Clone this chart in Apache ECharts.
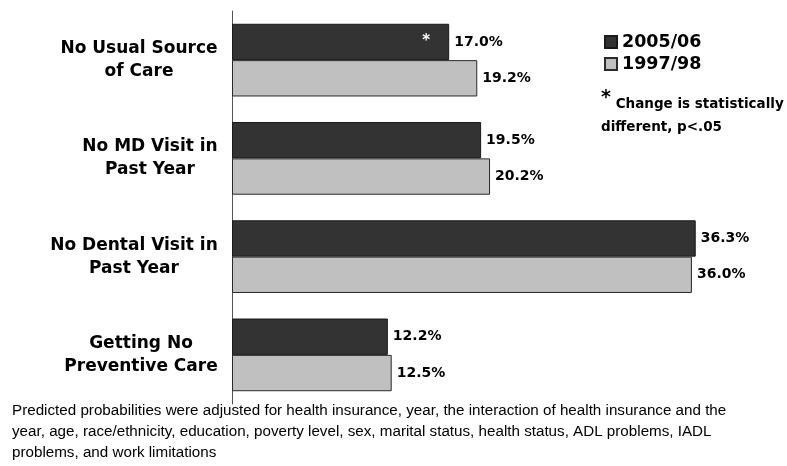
<!DOCTYPE html>
<html>
<head>
<meta charset="utf-8">
<script src="https://cdn.jsdelivr.net/npm/echarts@6/dist/echarts.min.js"></script>
<style>
  html, body { margin: 0; padding: 0; background: #fff; }
  #main { width: 787px; height: 466px; }
</style>
</head>
<body>
<div id="main"></div>
<script>
// chart data
const categories = [
  "No Usual Source\nof Care",
  "No MD Visit in\nPast Year",
  "No Dental Visit in\nPast Year",
  "Getting No\nPreventive Care",
];
const seriesNames = ["2005/06", "1997/98"];
const values2005 = [17.0, 19.5, 36.3, 12.2];
const values1997 = [19.2, 20.2, 36.0, 12.5];
// change statistically different (asterisk in the bar)
const significant = [true, false, false, false];

const noteText = "Change is statistically\ndifferent, p<.05";
const footnote =
  "Predicted probabilities were adjusted for health insurance, year, the interaction of health insurance and the\n" +
  "year, age, race/ethnicity, education, poverty level, sex, marital status, health status, ADL problems, IADL\n" +
  "problems, and work limitations";

const boldFont = '"DejaVu Sans", sans-serif';

// measure label widths so each two-line label is centred as a block
const ctx = document.createElement("canvas").getContext("2d");
ctx.font = 'bold 17px "DejaVu Sans"';
const labelRich = {};
categories.forEach((c, i) => {
  const w = Math.max(...c.split("\n").map((l) => ctx.measureText(l).width));
  labelRich["c" + i] = {
    width: Math.ceil(w),
    align: "center",
    fontFamily: boldFont,
    fontWeight: "bold",
    fontSize: 17,
    lineHeight: 23,
    color: "#000",
  };
});

const chart = echarts.init(document.getElementById("main"));

const option = {
  animation: false,
  title: [
    {
      text: "{s|*} " + noteText,
      left: 601,
      top: 93,
      padding: 0,
      textStyle: {
        fontFamily: boldFont,
        fontWeight: "bold",
        fontSize: 13.5,
        lineHeight: 23,
        color: "#000",
        rich: {
          s: { fontFamily: boldFont, fontWeight: "bold", fontSize: 19, lineHeight: 23, verticalAlign: "top", padding: [-4, 0, 0, 0], color: "#000" },
        },
      },
    },
    {
      text: footnote,
      left: 12,
      top: 400,
      padding: 0,
      textStyle: {
        fontFamily: '"Liberation Sans", Arial, sans-serif',
        fontWeight: "normal",
        fontSize: 15.2,
        lineHeight: 21,
        color: "#000",
      },
    },
  ],
  legend: {
    data: seriesNames,
    orient: "vertical",
    left: 599,
    top: 27,
    itemWidth: 12,
    itemHeight: 12,
    itemGap: 2,
    icon: "rect",
    textStyle: {
      fontFamily: boldFont,
      fontWeight: "bold",
      fontSize: 17.5,
      lineHeight: 20,
      color: "#000",
    },
  },
  grid: { left: 232, right: 44, top: 11, bottom: 62 },
  xAxis: {
    type: "value",
    min: 0,
    max: 40,
    show: false,
  },
  yAxis: {
    type: "category",
    data: categories,
    inverse: true,
    axisTick: { show: false },
    axisLine: { show: true, lineStyle: { color: "#555", width: 1 } },
    axisLabel: {
      margin: 14,
      formatter: (v, i) =>
        v.split("\n").map((l) => "{c" + i + "|" + l + "}").join("\n"),
      rich: labelRich,
    },
  },
  series: [
    {
      name: seriesNames[0],
      type: "bar",
      data: values2005,
      barGap: "0%",
      barCategoryGap: "26%",
      itemStyle: { color: "#333333", borderColor: "#1a1a1a", borderWidth: 1 },
      label: {
        show: true,
        position: "right",
        distance: 5,
        formatter: (p) => p.value.toFixed(1) + "%",
        fontFamily: boldFont,
        fontWeight: "bold",
        fontSize: 14,
        color: "#000",
      },
      markPoint: {
        symbol: "rect",
        symbolSize: 0,
        silent: true,
        label: {
          show: true,
          formatter: "*",
          offset: [-23, -1],
          color: "#fff",
          fontFamily: boldFont,
          fontWeight: "bold",
          fontSize: 15,
        },
        data: values2005
          .map((v, i) => (significant[i] ? { coord: [v, i] } : null))
          .filter(Boolean),
      },
    },
    {
      name: seriesNames[1],
      type: "bar",
      data: values1997,
      barGap: "0%",
      barCategoryGap: "26%",
      itemStyle: { color: "#c0c0c0", borderColor: "#2a2a2a", borderWidth: 1 },
      label: {
        show: true,
        position: "right",
        distance: 5,
        formatter: (p) => p.value.toFixed(1) + "%",
        fontFamily: boldFont,
        fontWeight: "bold",
        fontSize: 14,
        color: "#000",
      },
    },
  ],
};

chart.setOption(option);
</script>
</body>
</html>
